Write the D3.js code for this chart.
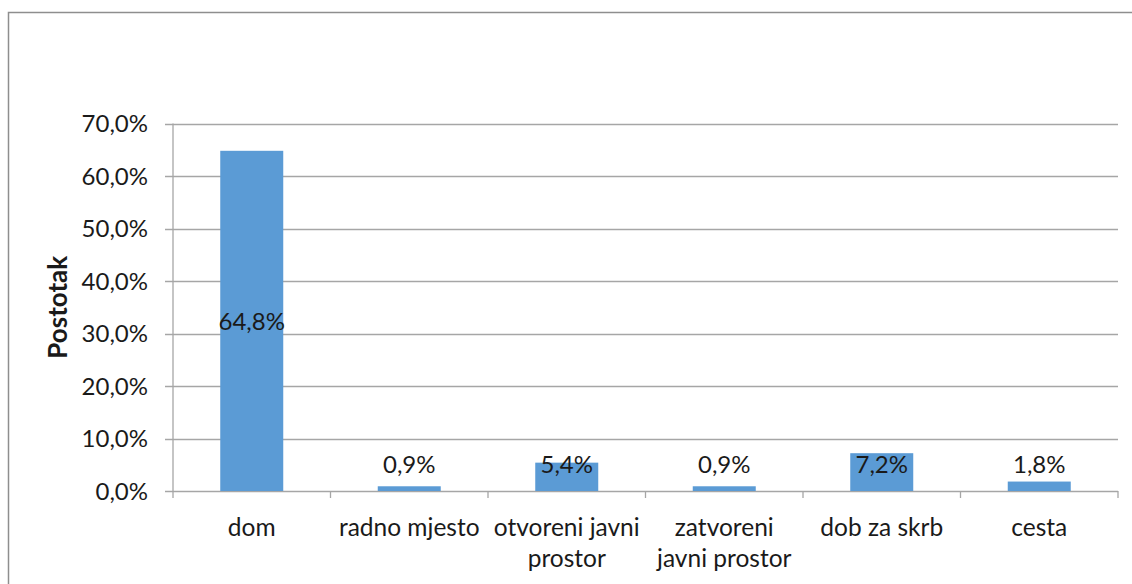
<!DOCTYPE html>
<html><head><meta charset="utf-8">
<script src="https://cdn.jsdelivr.net/npm/d3@7"></script>
<style>body{margin:0;background:#fff}svg{display:block}text{font-family:Lato,"Open Sans",sans-serif;fill:#1a1a1a}</style>
</head><body><svg id="c" width="1132" height="584"></svg>
<script>
const categories = [["dom"],["radno mjesto"],["otvoreni javni","prostor"],["zatvoreni","javni prostor"],["dob za skrb"],["cesta"]];
const values = [64.8, 0.9, 5.4, 0.9, 7.2, 1.8];
const valueLabels = ["64,8%","0,9%","5,4%","0,9%","7,2%","1,8%"];
const yTicks = [0,10,20,30,40,50,60,70];
const yTickLabels = ["0,0%","10,0%","20,0%","30,0%","40,0%","50,0%","60,0%","70,0%"];
const yTitle = "Postotak";

const svg = d3.select("#c");
const L = 173, R = 1118, T = 123.5, B = 491;
const x = d3.scaleBand().domain(d3.range(values.length)).range([L, R]).paddingInner(0.6).paddingOuter(0.3);
const xEdge = d3.scaleLinear().domain([0, values.length]).range([L, R]);
const y = d3.scaleLinear().domain([0, 70]).range([B, T]);
const grid = "#a6a6a6";

// outer border
svg.append("rect").attr("x",8.5).attr("y",12.5).attr("width",1300).attr("height",700)
  .attr("fill","none").attr("stroke","#8e8e8e").attr("stroke-width",1.5);

// gridlines
svg.append("g").selectAll("line").data(yTicks).join("line")
  .attr("x1",165).attr("x2",R).attr("y1",d=>Math.round(y(d))+0.5).attr("y2",d=>Math.round(y(d))+0.5)
  .attr("stroke",grid).attr("stroke-width",1.3);
// y labels
svg.append("g").selectAll("text").data(yTicks).join("text")
  .attr("x",148).attr("y",d=>y(d)).attr("dy","0.36em").attr("text-anchor","end")
  .style("font-size","24px").text((d,i)=>yTickLabels[i]);
// left axis
svg.append("line").attr("x1",L).attr("x2",L).attr("y1",T).attr("y2",B+7).attr("stroke",grid).attr("stroke-width",1.3);
// category ticks
svg.append("g").selectAll("line").data(d3.range(1, values.length+1)).join("line")
  .attr("x1",d=>xEdge(d)).attr("x2",d=>xEdge(d)).attr("y1",B).attr("y2",B+7).attr("stroke",grid).attr("stroke-width",1.3);

// bars
svg.append("g").selectAll("rect").data(values).join("rect")
  .attr("x",(d,i)=>x(i)).attr("width",x.bandwidth())
  .attr("y",d=>y(d)).attr("height",d=>B-y(d)).attr("fill","#5b9bd5");

// value labels
svg.append("g").selectAll("text").data(values).join("text")
  .attr("x",(d,i)=>x(i)+x.bandwidth()/2).attr("y",d=>y(Math.max(d/2,5))).attr("dy","0.36em")
  .attr("text-anchor","middle").style("font-size","24px").text((d,i)=>valueLabels[i]);

// category labels
const cl = svg.append("g").selectAll("text").data(categories).join("text")
  .attr("x",(d,i)=>x(i)+x.bandwidth()/2).attr("y",527)
  .attr("text-anchor","middle").style("font-size","24.5px");
cl.selectAll("tspan").data(d=>d).join("tspan")
  .attr("x",function(){return this.parentNode.getAttribute("x");})
  .attr("dy",(d,i)=>i===0?"0.36em":"31px").text(d=>d);

// y title
svg.append("text").attr("transform",`translate(58,${(T+B)/2}) rotate(-90)`).attr("dy","0.36em")
  .attr("text-anchor","middle").style("font-size","26px").style("font-weight","bold").text(yTitle);
</script></body></html>
